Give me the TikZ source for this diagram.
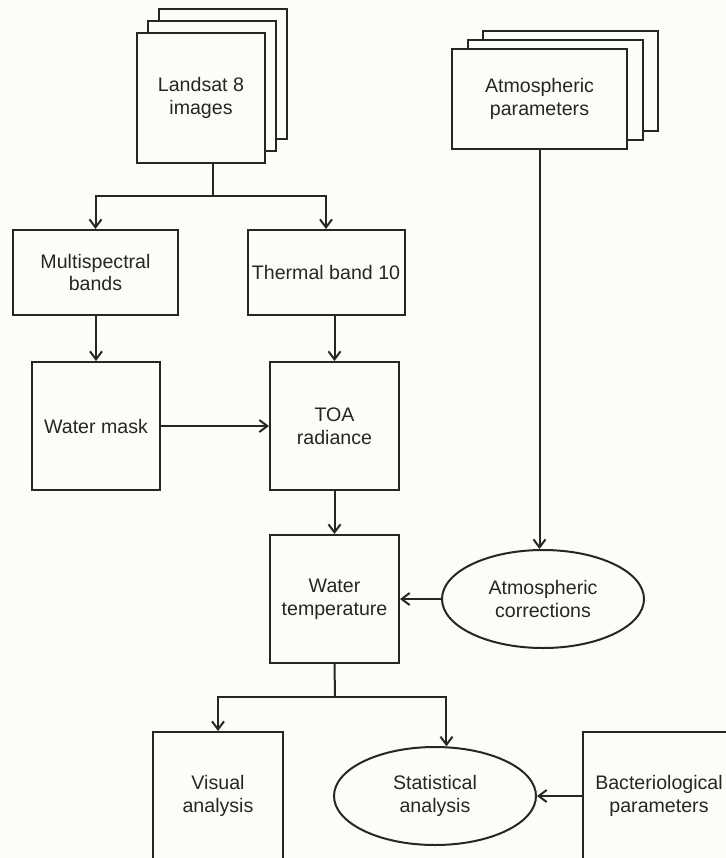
\documentclass[tikz,border=0pt]{standalone}
\usepackage{fontspec}
\setmainfont{Liberation Sans}
\usetikzlibrary{shapes, arrows.meta}
\definecolor{bgcol}{RGB}{253,253,248}
\definecolor{inkcol}{RGB}{38,38,38}
\begin{document}
\begin{tikzpicture}[x=0.5pt, y=-0.5pt, line width=1pt, color=inkcol,
	font=\fontsize{9.8}{11.3}\selectfont]
	\tikzstyle{procnode}=[
	draw,
	fill=bgcol,
	rectangle,
	inner sep=0pt,
	align=center
	]
	\tikzstyle{opnode}=[
	draw,
	fill=bgcol,
	ellipse,
	inner sep=0pt,
	align=center,
	minimum width=101pt,
	minimum height=49pt
	]
	\tikzstyle{flow}=[-{Straight Barb[length=4pt, width=6pt]}]
	\fill[bgcol] (0,0) rectangle (726,858);
	\useasboundingbox (0,0) rectangle (726,858);
	\clip (0,0) rectangle (726,858);
	\foreach \k in {2,1}
		\node[procnode, minimum width=64pt, minimum height=65pt] at (201+11*\k, 98-12*\k) {};
	\node[procnode, minimum width=64pt, minimum height=65pt] (landsat) at (201,98) {Landsat 8\\images};
	\foreach \k in {2,1}
		\node[procnode, minimum width=87.5pt, minimum height=50pt] at (539.5+15.5*\k, 99-9*\k) {};
	\node[procnode, minimum width=87.5pt, minimum height=50pt] (apar) at (539.5,99) {Atmospheric\\parameters};
	\node[procnode, minimum width=82.5pt, minimum height=42.5pt] (multi) at (95.5,272.5) {Multispectral\\bands};
	\node[procnode, minimum width=78.5pt, minimum height=42.5pt] (thermal) at (326,272.5) {Thermal band 10};
	\node[procnode, minimum width=64pt, minimum height=64pt] (wmask) at (96,426) {Water mask};
	\node[procnode, minimum width=64.5pt, minimum height=64pt] (toa) at (334.5,426) {TOA\\radiance};
	\node[procnode, minimum width=64.5pt, minimum height=64pt] (wtemp) at (334.5,599) {Water\\temperature};
	\node[opnode] (acorr) at (543,599) {Atmospheric\\corrections};
	\node[procnode, minimum width=65pt, minimum height=64pt] (visual) at (218,796) {Visual\\analysis};
	\node[opnode] (stat) at (435,796) {Statistical\\analysis};
	\node[procnode, minimum width=76pt, minimum height=64pt] (bact) at (659,796) {Bacteriological\\parameters};
	\coordinate (split1) at (213,196);
	\coordinate (split2) at (335,697);
	\draw (landsat.south -| split1) -- (split1);
	\draw[flow] (split1) -| (multi.north);
	\draw[flow] (split1) -| (thermal.north);
	\draw[flow] (multi.south -| wmask.north) -- (wmask.north);
	\draw[flow] (thermal.south -| toa.north) -- (toa.north);
	\draw[flow] (wmask.east) -- (toa.west);
	\draw[flow] (toa.south) -- (wtemp.north);
	\draw[flow] (apar.south) -- (apar.south |- acorr.north);
	\draw[flow] (acorr.west) -- (wtemp.east);
	\draw (wtemp.south) -- (split2);
	\draw[flow] (split2) -| (visual.north);
	\draw[flow] (split2) -| (stat.77);
	\draw[flow] (bact.west) -- (stat.east);
\end{tikzpicture}
\end{document}
